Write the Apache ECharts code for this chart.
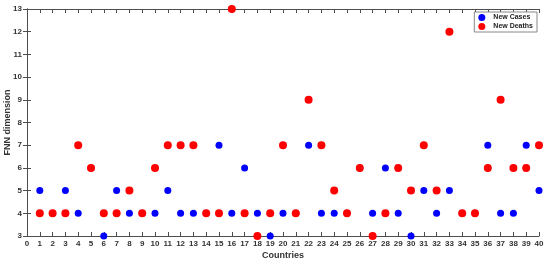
<!DOCTYPE html>
<html>
<head>
<meta charset="utf-8">
<script src="https://cdn.jsdelivr.net/npm/echarts@6/dist/echarts.min.js"></script>
<style>
  html, body { margin: 0; padding: 0; background: #fff; }
  #chart { width: 550px; height: 264px; }
</style>
</head>
<body>
<div id="chart"></div>
<script>
// countries 1..40
const countries = Array.from({ length: 40 }, (_, i) => i + 1)
// FNN dimension
const newCases = [5, 4, 5, 4, 6, 3, 5, 4, 4, 4, 5, 4, 4, 4, 7, 4, 6, 4, 3, 4,
  4, 7, 4, 4, 4, 6, 4, 6, 4, 3, 5, 4, 5, 4, 4, 7, 4, 4, 7, 5]
const newDeaths = [4, 4, 4, 7, 6, 4, 4, 5, 4, 6, 7, 7, 7, 4, 4, 13, 4, 3, 4, 7,
  4, 9, 7, 5, 4, 6, 3, 4, 6, 5, 7, 5, 12, 4, 4, 6, 9, 6, 6, 7]

const font = 'Liberation Sans, Arial, sans-serif'
const axisColor = '#4d4d4d'

const toPoints = vals => countries.map((c, i) => [c, vals[i]])

const chart = echarts.init(document.getElementById('chart'), null, { renderer: 'canvas' })

const baseAxis = {
  type: 'value',
  axisLine: { show: true, lineStyle: { color: axisColor, width: 1 } },
  axisTick: { show: true, inside: true, length: 4, lineStyle: { color: axisColor } },
  splitLine: { show: false }
}

chart.setOption({
  backgroundColor: '#fff',
  animation: false,
  grid: { left: 27, right: 11, top: 9, bottom: 28, containLabel: false, outerBoundsMode: 'none' },
  legend: {
    data: ['New Cases', 'New Deaths'],
    orient: 'vertical',
    right: 13,
    top: 12,
    itemWidth: 7,
    itemHeight: 7,
    itemGap: 2,
    padding: [2, 4, 2, 4],
    borderColor: '#888',
    borderWidth: 1,
    backgroundColor: '#fff',
    textStyle: { fontFamily: font, fontSize: 7, fontWeight: 'bold', color: '#222', padding: [0, 0, 0, 3] }
  },
  xAxis: [
    Object.assign({}, baseAxis, {
      min: 0, max: 40, interval: 1, position: 'bottom',
      name: 'Countries',
      nameLocation: 'middle',
      nameGap: 15,
      nameMoveOverlap: false,
      nameTextStyle: { fontFamily: font, fontSize: 9, fontWeight: 'bold', color: '#333' },
      axisLabel: { fontFamily: font, fontSize: 8, fontWeight: 'bold', color: '#333', margin: 4 }
    }),
    Object.assign({}, baseAxis, {
      min: 0, max: 40, interval: 1, position: 'top',
      axisLabel: { show: false }
    })
  ],
  yAxis: [
    Object.assign({}, baseAxis, {
      min: 3, max: 13, interval: 1, position: 'left',
      name: 'FNN dimension',
      nameLocation: 'middle',
      nameGap: 15,
      nameMoveOverlap: false,
      nameTextStyle: { fontFamily: font, fontSize: 9, fontWeight: 'bold', color: '#333' },
      axisLabel: { fontFamily: font, fontSize: 8, fontWeight: 'bold', color: '#333', margin: 5 }
    }),
    Object.assign({}, baseAxis, {
      min: 3, max: 13, interval: 1, position: 'right',
      axisLabel: { show: false }
    })
  ],
  series: [
    {
      name: 'New Cases',
      type: 'scatter',
      symbol: 'circle',
      symbolSize: 7,
      clip: false,
      itemStyle: { color: '#0000ff', opacity: 1 },
      data: toPoints(newCases)
    },
    {
      name: 'New Deaths',
      type: 'scatter',
      symbol: 'circle',
      symbolSize: 8,
      clip: false,
      itemStyle: { color: '#ff0000', opacity: 1 },
      data: toPoints(newDeaths)
    }
  ]
})
</script>
</body>
</html>
